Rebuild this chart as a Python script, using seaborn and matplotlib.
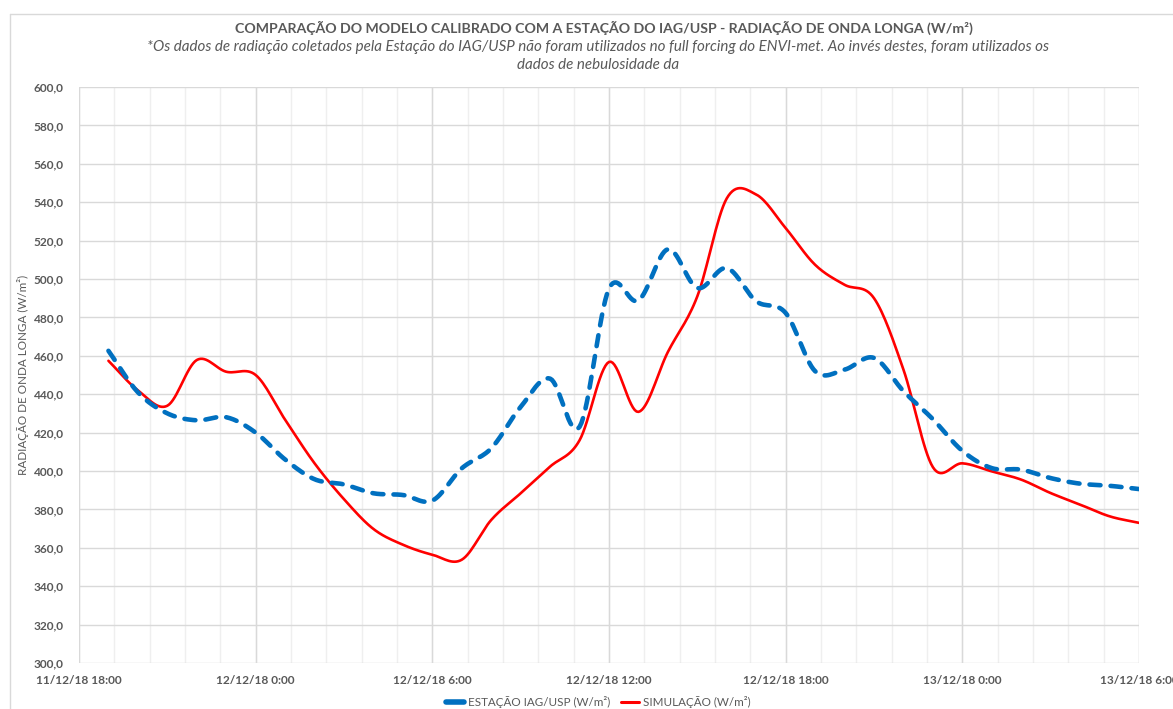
import matplotlib
matplotlib.use("Agg")
import matplotlib.pyplot as plt
from matplotlib.lines import Line2D
import numpy as np
import pandas as pd
import seaborn as sns

# hours after 11/12/18 18:00 (one reading per hour, 19:00 -> 06:00)
horas = list(range(1, 37))

estacao = [462.6, 441.0, 430.0, 426.4, 428.0, 420.0, 406.0, 395.7, 393.0, 388.4,
           387.5, 384.6, 401.4, 411.8, 433.4, 448.1, 423.0, 495.0, 488.8, 515.5,
           495.3, 505.7, 488.4, 482.3, 452.0, 452.8, 458.9, 441.6, 427.0, 410.5,
           401.5, 400.7, 396.3, 393.4, 392.3, 390.6]

simulacao = [457.4, 442.0, 434.0, 457.8, 451.7, 450.0, 426.7, 404.0, 385.3, 369.8,
             361.6, 356.4, 353.8, 374.5, 388.4, 402.3, 416.0, 456.8, 430.8, 462.0,
             491.0, 542.0, 544.0, 526.5, 507.4, 497.0, 490.0, 452.8, 402.0, 404.0,
             399.8, 395.5, 388.5, 382.5, 376.4, 373.0]

rotulos_x = ["11/12/18 18:00", "12/12/18 0:00", "12/12/18 6:00", "12/12/18 12:00",
             "12/12/18 18:00", "13/12/18 0:00", "13/12/18 6:00"]

titulo = "COMPARAÇÃO DO MODELO CALIBRADO COM A ESTAÇÃO DO IAG/USP - RADIAÇÃO DE ONDA LONGA (W/m²)"
subtitulo = ("*Os dados de radiação coletados pela Estação do IAG/USP não foram utilizados no full forcing do ENVI-met. Ao invés destes, foram utilizados os\n"
             "dados de nebulosidade da")
nome_est = "ESTAÇÃO IAG/USP (W/m²)"
nome_sim = "SIMULAÇÃO (W/m²)"


def suaviza(x, y, n=16):
    # same kind of smoothing as the spreadsheet "smoothed line" (Catmull-Rom)
    x = np.asarray(x, float)
    y = np.asarray(y, float)
    px = np.concatenate([[2 * x[0] - x[1]], x, [2 * x[-1] - x[-2]]])
    py = np.concatenate([[2 * y[0] - y[1]], y, [2 * y[-1] - y[-2]]])
    xs, ys = [], []
    for i in range(1, len(px) - 2):
        t = np.linspace(0, 1, n, endpoint=False)
        for arr, out in ((px, xs), (py, ys)):
            p0, p1, p2, p3 = arr[i - 1], arr[i], arr[i + 1], arr[i + 2]
            out.extend(0.5 * (2 * p1 + (-p0 + p2) * t + (2 * p0 - 5 * p1 + 4 * p2 - p3) * t ** 2
                              + (-p0 + 3 * p1 - 3 * p2 + p3) * t ** 3))
    xs.append(x[-1])
    ys.append(y[-1])
    return np.array(xs), np.array(ys)


sns.set_theme(style="white")
plt.rcParams['font.family'] = ['Lato', 'DejaVu Sans']

cinza = "#595959"
grade = "#D9D9D9"
grade_fina = "#EFEFEF"

fig = plt.figure(figsize=(11.73, 7.09), dpi=100)
ax = fig.add_axes([79 / 1173, 1 - 663 / 709, (1139 - 79) / 1173, (663 - 87) / 709])

xe, ye = suaviza(horas, estacao)
xs_, ys_ = suaviza(horas, simulacao)
df_e = pd.DataFrame({"hora": xe, "valor": ye})
df_s = pd.DataFrame({"hora": xs_, "valor": ys_})

sns.lineplot(data=df_s, x="hora", y="valor", ax=ax, color="#FF0000", linewidth=1.9,
             estimator=None, sort=False, zorder=3)
sns.lineplot(data=df_e, x="hora", y="valor", ax=ax, color="#0070C0", linewidth=3.3,
             estimator=None, sort=False, zorder=4, linestyle=(0, (2.4, 2.2)),
             dash_capstyle="round", solid_capstyle="round")

ax.set_xlim(0, 36)
ax.set_ylim(300, 600)
ax.set_yticks(np.arange(300, 601, 20))
ax.set_yticklabels([f"{v:.1f}".replace(".", ",") for v in np.arange(300, 601, 20)])
ax.set_xticks(np.arange(0, 37, 6))
ax.set_xticklabels(rotulos_x)
ax.set_xticks(np.arange(0, 36.01, 1.2), minor=True)

ax.grid(False)
for xm in np.arange(0, 36.01, 1.2):
    ax.axvline(xm, color=grade_fina, lw=1, zorder=0)
for xM in np.arange(0, 37, 6):
    ax.axvline(xM, color=grade, lw=1, zorder=1)
for yv in np.arange(300, 601, 20):
    ax.axhline(yv, color=grade, lw=1, zorder=1)

for s in ax.spines.values():
    s.set_visible(False)
ax.tick_params(axis="both", which="both", length=0, colors=cinza)
ax.tick_params(axis="x", pad=9)
ax.tick_params(axis="y", pad=11)
for lab in ax.get_xticklabels() + ax.get_yticklabels():
    lab.set_fontweight("bold")
    lab.set_fontsize(8.6)
    lab.set_color(cinza)

ax.set_xlabel("")
ax.set_ylabel("RADIAÇÃO DE ONDA LONGA (W/m²)", color=cinza, fontsize=8.4)
ax.yaxis.set_label_coords(-0.047, 0.5)

fig.text(604 / 1173, 1 - 28 / 709, titulo, ha="center", va="center",
         fontsize=10.2, fontweight="bold", color=cinza)
fig.text(598 / 1173, 1 - 56 / 709, subtitulo, ha="center", va="center",
         fontsize=10.9, style="italic", color=cinza, linespacing=1.3)

# chart area border (cut at right and bottom in the reference)
fig.add_artist(Line2D([10 / 1173, 1], [1 - 14 / 709, 1 - 14 / 709], color=grade, lw=1,
                      transform=fig.transFigure))
fig.add_artist(Line2D([10 / 1173, 10 / 1173], [0, 1 - 14 / 709], color=grade, lw=1,
                      transform=fig.transFigure))

handles = [Line2D([], [], color="#0070C0", lw=4, solid_capstyle="round"),
           Line2D([], [], color="#FF0000", lw=2.2)]
leg = fig.legend(handles, [nome_est, nome_sim], loc="center", bbox_to_anchor=(598 / 1173, 1 - 702 / 709),
                 ncol=2, frameon=False, fontsize=8.4, handlelength=1.6, handletextpad=0.3,
                 columnspacing=0.9)
for t in leg.get_texts():
    t.set_color(cinza)

fig.savefig("out.png", dpi=100)
